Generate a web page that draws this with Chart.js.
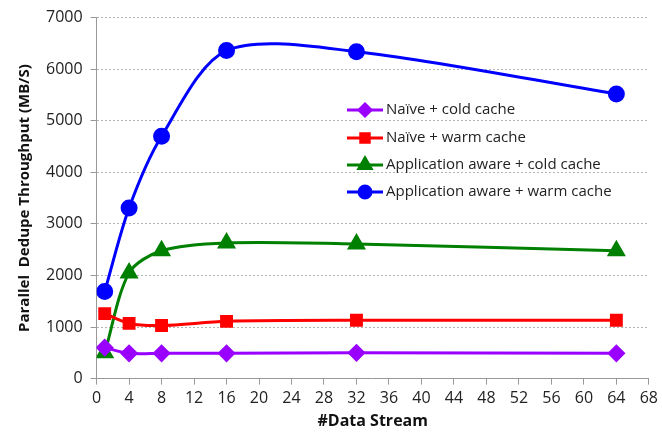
<!DOCTYPE html>
<html>
<head>
<meta charset="utf-8">
<script src="https://cdn.jsdelivr.net/npm/chart.js@4"></script>
<style>
  body { margin: 0; background: #fff; }
</style>
</head>
<body>
<canvas id="myChart" width="662" height="443"></canvas>
<script>
// data
const streams = [1, 4, 8, 16, 32, 64];
const naiveCold = [600, 490, 490, 490, 500, 490];
const naiveWarm = [1260, 1070, 1030, 1110, 1130, 1130];
const appCold = [500, 2050, 2480, 2630, 2610, 2480];
const appWarm = [1690, 3310, 4700, 6360, 6340, 5520];
const labels = [
    'Naïve + cold cache',
    'Naïve + warm cache',
    'Application aware + cold cache',
    'Application aware + warm cache'
];

const FONT = "'Open Sans', 'Liberation Sans', sans-serif";

function pts(ys) {
    return streams.map((x, i) => ({x: x, y: ys[i]}));
}

function series(label, ys, color, style, r) {
    return {
        label: label,
        data: pts(ys),
        borderColor: color,
        backgroundColor: color,
        borderWidth: 3,
        pointStyle: style,
        pointRadius: r,
        pointHoverRadius: r,
        tension: 0.3,
        showLine: true
    };
}

// legend sits inside the plot, no box, so draw it ourselves
const insideLegend = {
    id: 'insideLegend',
    afterDraw(chart) {
        const c = chart.ctx;
        const x0 = 347, x1 = 383;
        const rows = [110, 138, 165, 192];
        c.save();
        c.font = "15px " + FONT;
        c.textBaseline = 'middle';
        chart.data.datasets.forEach((ds, i) => {
            const y = rows[i];
            c.strokeStyle = ds.borderColor;
            c.lineWidth = 3;
            c.beginPath();
            c.moveTo(x0, y);
            c.lineTo(x1, y);
            c.stroke();
            Chart.helpers.drawPoint(c, {
                pointStyle: ds.pointStyle,
                radius: ds.pointRadius - 1,
                borderWidth: 1
            }, (x0 + x1) / 2, y);
            c.fillStyle = ds.borderColor;
            c.fill();
            c.fillStyle = '#222';
            c.fillText(ds.label, x1 + 3, y);
        });
        c.restore();
    }
};

const ctx = document.getElementById('myChart');

var chart = new Chart(ctx, {
    type: 'scatter',
    data: {
        datasets: [
            series(labels[0], naiveCold, '#9900ff', 'rectRot', 7),
            series(labels[1], naiveWarm, '#ff0000', 'rect', 7),
            series(labels[2], appCold, '#008000', 'triangle', 8),
            series(labels[3], appWarm, '#0000ff', 'circle', 7)
        ]
    },
    plugins: [insideLegend],
    options: {
        responsive: false,
        animation: false,
        layout: { padding: { top: 6, right: 0, left: 12, bottom: 8 } },
        plugins: {
            legend: { display: false },
            tooltip: { enabled: false }
        },
        scales: {
            x: {
                type: 'linear',
                min: 0,
                max: 68,
                ticks: {
                    stepSize: 4,
                    color: '#222',
                    font: { family: FONT, size: 16 },
                    padding: 4
                },
                grid: {
                    drawOnChartArea: false,
                    drawTicks: true,
                    tickLength: 6,
                    color: '#999'
                },
                border: { color: '#999', width: 1 },
                title: {
                    display: true,
                    text: '#Data Stream',
                    color: '#111',
                    font: { family: FONT, size: 16, weight: 'bold' },
                    padding: { top: 0 }
                }
            },
            y: {
                min: 0,
                max: 7000,
                ticks: {
                    stepSize: 1000,
                    color: '#222',
                    font: { family: FONT, size: 16 },
                    padding: 8,
                    callback: (v) => String(v)
                },
                grid: {
                    color: '#b4b4b4',
                    tickLength: 6,
                    tickColor: '#999'
                },
                border: { color: '#999', width: 1, dash: [2, 2] },
                title: {
                    display: true,
                    text: 'Parallel  Dedupe Throughput (MB/S)',
                    color: '#111',
                    font: { family: FONT, size: 15, weight: 'bold' },
                    padding: { bottom: 4 }
                }
            }
        }
    }
});
</script>
</body>
</html>
